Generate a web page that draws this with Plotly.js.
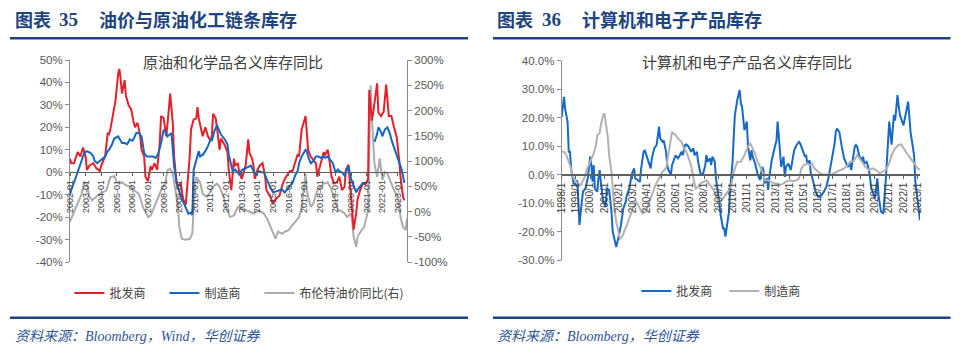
<!DOCTYPE html>
<html><head><meta charset="utf-8">
<script src="https://cdn.plot.ly/plotly-3.0.1.min.js"></script>
<style>html,body{margin:0;padding:0;background:#fff}#chart{width:960px;height:352px}</style>
</head><body><div id="chart"></div>
<script>
// ===== Left panel: 原油和化学品名义库存同比 =====
const wsDates = ['2002-01','2002-02','2002-04','2002-07','2002-09','2002-11','2003-01','2003-02','2003-04','2003-07','2003-09','2003-12',
'2004-01','2004-04','2004-06','2004-07','2004-08','2004-10','2004-12','2005-02','2005-03','2005-04','2005-05','2005-07','2005-08','2005-10','2005-12',
'2006-02','2006-03','2006-05','2006-07','2006-08','2006-10','2006-11','2007-01','2007-03','2007-04','2007-06','2007-08','2007-10','2007-11',
'2008-01','2008-02','2008-03','2008-05','2008-06','2008-08','2008-09','2008-11','2008-12','2009-02','2009-04','2009-06','2009-07','2009-09','2009-10','2009-12',
'2010-02','2010-03','2010-04','2010-06','2010-07','2010-09','2010-11','2011-01','2011-02','2011-03','2011-05','2011-06','2011-08','2011-09','2011-12',
'2012-02','2012-03','2012-05','2012-07','2012-08','2012-10','2012-11','2013-01','2013-04','2013-06','2013-07','2013-09','2013-10','2013-11',
'2014-01','2014-03','2014-05','2014-07','2014-08','2014-11','2015-01','2015-03','2015-06','2015-08','2015-10','2015-12',
'2016-02','2016-04','2016-06','2016-08','2016-09','2016-11','2017-02','2017-03','2017-04','2017-06','2017-08','2017-10','2017-11',
'2018-01','2018-03','2018-04','2018-05','2018-07','2018-08','2018-10','2018-12','2019-02','2019-04','2019-06','2019-08','2019-09','2019-11',
'2020-01','2020-02','2020-03','2020-05','2020-06','2020-08','2020-10','2020-12','2021-02','2021-03','2021-05','2021-06','2021-09','2021-10','2021-12',
'2022-02','2022-04','2022-06','2022-08','2022-10','2022-12','2023-02','2023-03','2023-05','2023-06'];
const wsVals = [6,4,4,9,7,11,7,1,3,4,2,0.5,
3,7,17.5,17,19,26.5,32,44,46,41,35,41,34,30,28,
22,20,22,16,10,7,-2,-4,2.7,1,4,1,13,25,
24,19,16,28,35,22,7,-5,-6,-5,-12,-14.5,-8,7,19,23.5,
24,29,24,17.5,16,20,16,14,16,26,24,20,10,15,12,
9,1,-8,6,3,4,0,-3,3,14.6,8.6,6,3,-3,
1,3,4,-2,-8,-11,-14,-12,-10.5,-6,-3,-1,
0.5,0.5,4,8,7,19,25,17.5,10,7,5.7,4,-2,
2.7,7,9,7.5,10,7,-2,-5,-4.5,-2,-8,-6.5,1,3.4,
-11,-20,-25.6,-18,-12,-8,-5,-5.5,-3,36.6,23,26.6,39.6,26.6,25,
27,39,25,25,20,15.8,5.4,-2,-11,-12.5];

const mfDates = ['2002-01','2002-02','2002-04','2002-07','2002-09','2002-12','2003-02','2003-05','2003-07','2003-08','2003-10',
'2004-01','2004-04','2004-06','2004-07','2004-09','2004-11','2005-02','2005-03','2005-05','2005-07','2005-09','2005-11',
'2006-01','2006-02','2006-04','2006-06','2006-08','2006-10','2006-12','2007-03','2007-05','2007-07','2007-09','2007-11',
'2008-01','2008-03','2008-04','2008-06','2008-07','2008-08','2008-09','2008-11','2009-01','2009-03','2009-05','2009-07','2009-08','2009-10','2009-11','2009-12',
'2010-02','2010-04','2010-05','2010-07','2010-09','2010-11','2011-01','2011-02','2011-04','2011-06','2011-07','2011-09','2011-12',
'2012-02','2012-03','2012-05','2012-06','2012-08','2012-10','2012-11','2013-01','2013-04','2013-06','2013-08','2013-10','2013-12',
'2014-02','2014-04','2014-06','2014-07','2014-09','2014-11','2015-01','2015-03','2015-06','2015-08','2015-10','2015-12',
'2016-02','2016-04','2016-06','2016-08','2016-09','2016-11','2017-02','2017-03','2017-04','2017-06','2017-08','2017-10','2017-12',
'2018-02','2018-04','2018-05','2018-07','2018-09','2018-11','2019-01','2019-03','2019-04','2019-06','2019-08','2019-09','2019-11',
'2020-01','2020-03','2020-05','2020-06','2020-08','2020-10','2021-01','2021-04',
'2021-07','2021-09','2021-10','2021-12','2022-01','2022-03','2022-05','2022-07','2022-08','2022-10','2022-12','2023-02','2023-04','2023-06'];
const mfVals = [-10,-7.7,-4.8,0,4,8.6,9.4,8.5,7,5,4,
5.7,7,9.4,10,12,15,16,15,13,13,12.5,14.6,
14,15,17.5,17.5,16,8.6,7,7,7,6.4,8.6,13,
19,17.5,16,17,17.5,10,2.7,-5,-9,-12,-14.4,-17,-18.5,-18,-19,1,
5.7,9.4,7,7.7,9.4,11.6,14.6,14,18.3,21,19.5,16.8,14.6,
12.4,7.9,2.7,0.5,1.2,0,-1,1,2,2.7,3,0.5,-1,
0.5,0,0,-1.5,-4,-7,-9,-8.7,-8.3,-7.7,-9,-7.5,
-6,-4.8,-1.5,0.7,4,7,10,9.3,7,4,5,7,7,
6.4,7,6.4,7,5.7,4,0,1.2,0.5,0,-1.5,0,2.7,
-3,-6,-9,-7.7,-6,-4.8,-4.8,null,
13.5,17,20,18,16,19,20,17,14.5,11,8.5,5,1,-4.8];

const brentDates = ['2002-01','2002-10','2002-12','2003-02','2003-04','2003-06','2003-12','2004-05','2004-08','2004-11',
'2005-01','2005-03','2005-05','2005-08','2005-12','2006-02','2006-06','2006-09','2007-01','2007-03','2007-07','2007-11',
'2008-02','2008-04','2008-06','2008-08','2008-10','2008-12','2009-01','2009-03','2009-06','2009-09','2009-11',
'2010-01','2010-02','2010-05','2010-07','2010-10','2011-01','2011-03','2011-06','2011-08','2011-11',
'2012-01','2012-04','2012-07','2012-10','2012-12','2013-05','2013-10','2014-02','2014-06','2014-09',
'2015-01','2015-03','2015-05','2015-08','2015-10','2016-01','2016-04','2016-06','2016-09','2016-11',
'2017-01','2017-02','2017-03','2017-06','2017-08','2017-11','2018-02','2018-04','2018-07','2018-09','2018-12',
'2019-03','2019-05','2019-08','2019-10','2020-01','2020-02','2020-03','2020-05','2020-06','2020-09','2020-11',
'2021-02','2021-03','2021-04','2021-05','2021-07','2021-09','2021-11','2022-01','2022-03','2022-05','2022-08','2022-10',
'2023-01','2023-03','2023-05','2023-07','2023-08'];
const brentVals = [-20,35,58,55,29,22,35,42,68,70,
58,55,58,52,49,42,35,9,-11,-8,16,42,
55,82,85,75,42,9,-31,-54,-56,-54,-44,
55,68,58,35,29,39,49,55,49,29,
9,-11,-8,9,6,2,-4,2,-4,-17,
-44,-54,-40,-44,-40,-37,-27,-21,-11,9,
55,75,42,9,16,42,49,55,58,49,29,
2,2,-4,-11,-4,-24,-50,-70,-50,-37,-31,
2,121,250,187,95,68,105,62,78,75,55,42,
29,-11,-31,-37,-14];

const leftTickText = ['2002-01','2003-01','2004-01','2005-01','2006-01','2007-01','2008-01','2009-01','2010-01','2011-01','2012-01',
'2013-01','2014-01','2015-01','2016-01','2017-01','2018-01','2019-01','2020-01','2021-01','2022-01','2023-01'];
const leftYTicks = [-40,-30,-20,-10,0,10,20,30,40,50];
const rightYTicks = [-100,-50,0,50,100,150,200,250,300];

// ===== Right panel: 计算机和电子产品名义库存同比 =====
const ceWsDates = ['1998-01','1998-03','1998-04','1998-06','1998-07','1998-08','1998-09','1998-11','1999-01','1999-02','1999-03','1999-04','1999-06','1999-07','1999-09','1999-11',
'2000-01','2000-02','2000-03','2000-04','2000-05','2000-07','2000-08','2000-09','2000-10','2000-12','2001-02','2001-03','2001-05','2001-07','2001-08','2001-10','2001-11',
'2002-01','2002-03','2002-05','2002-07','2002-08','2002-10','2002-12','2003-02','2003-03','2003-05','2003-07','2003-08','2003-10','2003-11',
'2004-02','2004-04','2004-05','2004-07','2004-09','2004-11','2004-12','2005-02','2005-03','2005-05','2005-06','2005-07','2005-09','2005-10','2005-11',
'2006-01','2006-03','2006-04','2006-06','2006-07','2006-09','2006-10','2006-12','2007-02','2007-04','2007-05','2007-07','2007-08','2007-10','2007-12',
'2008-02','2008-03','2008-04','2008-06','2008-07','2008-08','2008-10','2008-11','2009-01','2009-03','2009-05','2009-06','2009-07','2009-08','2009-10','2009-11',
'2010-01','2010-02','2010-03','2010-05','2010-07','2010-08','2010-09','2010-11','2011-01','2011-02','2011-04','2011-05','2011-06','2011-08','2011-10','2011-12',
'2012-02','2012-03','2012-04','2012-06','2012-07','2012-08','2012-10','2012-12','2013-02','2013-03','2013-04','2013-05','2013-06','2013-08','2013-09','2013-10','2013-12',
'2014-02','2014-03','2014-05','2014-07','2014-09','2014-10','2014-12','2015-02','2015-03','2015-04','2015-06','2015-07','2015-08','2015-10','2015-11',
'2016-01','2016-03','2016-06','2016-08','2016-10','2016-12','2017-02','2017-03','2017-04','2017-05','2017-07','2017-08','2017-09','2017-11',
'2018-01','2018-02','2018-04','2018-05','2018-06','2018-08','2018-09','2018-10','2018-12','2019-02','2019-03','2019-04','2019-06','2019-08','2019-10',
'2020-01','2020-03','2020-04','2020-06','2020-08','2020-10','2020-12','2021-01','2021-03','2021-05','2021-06','2021-08','2021-09','2021-10',
'2022-01','2022-03','2022-05','2022-07','2022-10','2022-11','2023-01','2023-03'];
const ceWsVals = [20.3,27.3,23,18.5,8,8,2,-3,-3.7,-2,-8.4,-17.7,-9.5,-6,-4.9,-1.3,
6.3,3.3,-2.5,3.3,-4.9,-6,-1.3,1.6,-2.5,-9.5,-11.3,-4.9,-5.4,-13,-20,-24,-25.4,
-21.8,-17.7,-11.9,-9.5,-7.2,-4.9,0,2.2,-1.3,-2,-2.5,2.2,8,8.6,
4.5,2.2,5.7,9.2,10.4,16.8,12.7,11.5,12,8,3.3,1.6,0,3.3,4.5,
6.8,5.7,6.3,8,6.8,10.4,10.6,9.8,8,9.2,6.8,8,4.5,0.4,0,
3.3,6.8,4.5,5.7,3.3,6.3,4.5,-1.3,-7.2,-14.2,-18.9,-18.9,-21.8,-18.9,-13,-4.9,
4.5,13.9,20.9,26.2,29.7,25,23.8,15.6,18.6,9.8,5,8.6,6.3,3.9,0.4,-1.9,
2.7,1.6,-3.1,-1.3,-5.4,-0.8,5,8.6,12.1,18.6,12.1,9.8,2.7,6.3,-0.8,2.7,3.9,
1.6,3.9,8.6,10.4,11.5,10.9,8.6,6.3,6.9,3.9,5,0.4,-0.8,-4.3,-6,
-7.8,-7.8,-6,-4.3,-0.8,3.9,8.6,10.9,15,16.2,15,12.1,9.8,5.7,
3.9,2.7,3.9,1.6,4.5,9.8,10.4,9.8,6.3,5,6.3,3.9,4.5,1.6,-4.9,
-8.4,-1.3,-7.2,-13,-13.7,-2.5,11.6,18.6,10.5,21,19,27.9,24,21,
17.3,22,25.6,15,6.8,-2.5,-9.5,-16];

const ceMfDates = ['1998-01','1998-03','1998-05','1998-08','1998-10','1998-12','1999-02','1999-05','1999-08','1999-10',
'2000-01','2000-04','2000-06','2000-07','2000-09','2000-10','2000-12','2001-01','2001-02','2001-04','2001-05','2001-07','2001-08','2001-09','2001-11',
'2002-01','2002-02','2002-04','2002-06','2002-08','2002-10','2003-01','2003-04','2003-07','2003-09','2003-12',
'2004-03','2004-06','2004-08','2004-11','2005-02','2005-05','2005-07','2005-09','2005-10','2005-11','2006-01','2006-03','2006-06','2006-08','2006-10','2006-12',
'2007-02','2007-04','2007-06','2007-08','2007-10','2008-01','2008-03','2008-04','2008-07','2008-09','2008-11','2009-01','2009-03','2009-05','2009-07','2009-09','2009-12',
'2010-02','2010-04','2010-05','2010-08','2010-11','2011-02','2011-04','2011-06','2011-08','2011-10','2012-01','2012-03','2012-04','2012-07','2012-09','2012-12',
'2013-02','2013-05','2013-08','2013-10','2014-01','2014-04','2014-07','2014-09','2014-11','2015-01','2015-04','2015-06','2015-08','2015-10',
'2016-01','2016-03','2016-06','2016-09','2016-12','2017-02','2017-05','2017-08','2017-11','2018-02','2018-04','2018-07','2018-10','2018-12',
'2019-03','2019-05','2019-08','2019-11','2020-02','2020-05','2020-07','2020-10','2021-01','2021-03','2021-06','2021-09','2021-11',
'2022-01','2022-04','2022-07','2022-10','2023-01','2023-03'];
const ceMfVals = [8,8,6.8,3.3,0,-2,-3.1,-3.7,-1.3,1.6,
4.5,7.4,10.4,13.9,14.5,17.4,20.9,21.5,18.6,12.7,6.8,1,-4.9,-10.7,-16.6,
-21.4,-22.5,-21.8,-20,-17.7,-15.4,-11.9,-9.5,-11.9,-13.6,-13,
-9.5,-6,-3.7,-1.3,1,2.2,6.8,12.7,15,14.5,13.9,12.7,11.5,9.2,8,5.7,
3.3,-1.3,-4.9,-4.3,-3.1,-2.5,-2,-2.5,-4.3,-5.4,-7.2,-9.5,-9.5,-8.4,-7.2,-6,-3.7,
1,3.3,4.5,4.5,6.8,9.8,10.9,9.2,7.4,4.5,2.2,0,-2,-2,-2.5,-3.1,
-3.1,-3.7,-3.1,-2.5,-2,-2.3,-2,-1.3,2.2,3.3,3.9,3.3,3.9,2.2,
1,0.4,0,0,0,0.4,1,1.6,2.2,3.3,4.5,4.7,6.8,5.7,
3.9,2.7,1.6,2.2,1.6,0.4,1,1.6,3.9,6.8,9.2,10.4,10.6,
9.2,7.4,5.7,3.9,2.2,1.6];

const ceTickText = ['1998/1','1999/1','2000/1','2001/1','2002/1','2003/1','2004/1','2005/1','2006/1','2007/1','2008/1','2009/1','2010/1',
'2011/1','2012/1','2013/1','2014/1','2015/1','2016/1','2017/1','2018/1','2019/1','2020/1','2021/1','2022/1','2023/1'];
const ceYTicks = [-30,-20,-10,0,10,20,30,40];

// ===== styles =====
const RED = '#E5202A', BLUE = '#1766C2', GRAY = '#ACACAC', RBLUE = '#1669C4', RGRAY = '#B2B2B2';
const AX = '#8C8C8C', ZERO = '#5F5F5F', LBL = '#595959';
const NAVY = '#1E4580', SRC = '#2F5597';
const CJK = 'Noto Sans CJK SC';
const W = 960, H = 352;
const px = x => x / W, py = y => 1 - y / H;

const traces = [
  {x: brentDates, y: brentVals, type: 'scatter', mode: 'lines', name: '布伦特油价同比(右)', xaxis: 'x', yaxis: 'y',
   line: {color: GRAY, width: 2}, legend: 'legend3'},
  {x: wsDates, y: wsVals, type: 'scatter', mode: 'lines', name: '批发商', xaxis: 'x', yaxis: 'y2',
   line: {color: RED, width: 2}, legend: 'legend', legendrank: 1},
  {x: mfDates, y: mfVals, type: 'scatter', mode: 'lines', name: '制造商', xaxis: 'x', yaxis: 'y2',
   line: {color: BLUE, width: 2}, legend: 'legend', legendrank: 2},
  {x: ceWsDates, y: ceWsVals, type: 'scatter', mode: 'lines', name: '批发商', xaxis: 'x2', yaxis: 'y3',
   line: {color: RBLUE, width: 2}, legend: 'legend2'},
  {x: ceMfDates, y: ceMfVals, type: 'scatter', mode: 'lines', name: '制造商', xaxis: 'x2', yaxis: 'y3',
   line: {color: RGRAY, width: 2}, legend: 'legend2'}
];

const yTickFont = {family: 'Liberation Sans, Arial, sans-serif', size: 11.5, color: LBL};
const legFont = {family: CJK, size: 12, color: '#404040'};

const layout = {
  width: W, height: H, autosize: false,
  margin: {l: 0, r: 0, t: 0, b: 0, pad: 0},
  paper_bgcolor: '#fff', plot_bgcolor: 'rgba(0,0,0,0)',
  showlegend: true,
  xaxis: {
    type: 'date', domain: [px(70), px(407)], range: ['2002-01-01', '2023-08-01'],
    anchor: 'free', position: py(172),
    showline: true, linecolor: ZERO, linewidth: 1.3, showgrid: false, zeroline: false,
    tickmode: 'array', tickvals: leftTickText.map(t => t + '-01'), ticktext: leftTickText,
    ticks: 'outside', ticklen: 3, tickcolor: ZERO, tickangle: -90,
    tickfont: {family: 'Liberation Sans, Arial, sans-serif', size: 9, color: '#404040'}
  },
  yaxis: {
    domain: [py(262), py(60)], range: [-100, 300], side: 'right', anchor: 'x',
    showline: true, linecolor: AX, showgrid: false, zeroline: false,
    tickmode: 'array', tickvals: rightYTicks, ticktext: rightYTicks.map(v => v + '%'),
    ticks: 'outside', ticklen: 4, tickcolor: AX, tickfont: yTickFont
  },
  yaxis2: {
    range: [-40, 50], overlaying: 'y', side: 'left', anchor: 'x',
    showline: true, linecolor: AX, showgrid: false, zeroline: false,
    tickmode: 'array', tickvals: leftYTicks, ticktext: leftYTicks.map(v => v + '%'),
    ticks: 'outside', ticklen: 4, tickcolor: AX, tickfont: yTickFont
  },
  xaxis2: {
    type: 'date', domain: [px(561.7), px(920)], range: ['1998-01-01', '2023-03-01'],
    anchor: 'free', position: py(174.4),
    showline: true, linecolor: ZERO, linewidth: 1.3, showgrid: false, zeroline: false,
    tickmode: 'array', tickvals: ceTickText.map(t => t.split('/')[0] + '-01-01'), ticktext: ceTickText,
    ticks: 'outside', ticklen: 3, tickcolor: ZERO, tickangle: -90,
    tickfont: {family: 'Liberation Sans, Arial, sans-serif', size: 10, color: '#404040'}
  },
  yaxis3: {
    domain: [py(260), py(60.7)], range: [-30, 40], anchor: 'x2',
    showline: true, linecolor: AX, showgrid: false, zeroline: false,
    tickmode: 'array', tickvals: ceYTicks, ticktext: ceYTicks.map(v => v.toFixed(1) + '%'),
    ticks: 'outside', ticklen: 4, tickcolor: AX, tickfont: yTickFont
  },
  legend: {
    orientation: 'h', x: px(69.4), y: py(293), xanchor: 'left', yanchor: 'middle',
    font: legFont, bgcolor: 'rgba(0,0,0,0)',
    entrywidth: 50, entrywidthmode: 'pixels', traceorder: 'normal'
  },
  legend3: {
    orientation: 'h', x: px(259.4), y: py(293), xanchor: 'left', yanchor: 'middle',
    font: legFont, bgcolor: 'rgba(0,0,0,0)', traceorder: 'normal'
  },
  legend2: {
    orientation: 'h', x: px(636.3), y: py(291), xanchor: 'left', yanchor: 'middle',
    font: legFont, bgcolor: 'rgba(0,0,0,0)',
    entrywidth: 43, entrywidthmode: 'pixels', traceorder: 'normal'
  },
  shapes: [
    {type: 'line', xref: 'paper', yref: 'paper', x0: px(10), x1: px(468), y0: py(38.3), y1: py(38.3), line: {color: NAVY, width: 2.6}},
    {type: 'line', xref: 'paper', yref: 'paper', x0: px(493), x1: px(950.5), y0: py(38.3), y1: py(38.3), line: {color: NAVY, width: 2.6}},
    {type: 'line', xref: 'paper', yref: 'paper', x0: px(10), x1: px(468), y0: py(317.7), y1: py(317.7), line: {color: NAVY, width: 2.6}},
    {type: 'line', xref: 'paper', yref: 'paper', x0: px(493), x1: px(950.5), y0: py(317.7), y1: py(317.7), line: {color: NAVY, width: 2.6}}
  ],
  annotations: [
    {text: '<b>图表</b>', x: px(12.7), y: py(19.3), xref: 'paper', yref: 'paper', xanchor: 'left', yanchor: 'middle', showarrow: false,
     font: {family: CJK, size: 18, color: NAVY}},
    {text: '<b>35</b>', x: px(56.7), y: py(19.3), xref: 'paper', yref: 'paper', xanchor: 'left', yanchor: 'middle', showarrow: false,
     font: {family: 'Liberation Serif, serif', size: 19, color: NAVY}},
    {text: '<b>油价与原油化工链条库存</b>', x: px(96.7), y: py(19.3), xref: 'paper', yref: 'paper', xanchor: 'left', yanchor: 'middle', showarrow: false,
     font: {family: CJK, size: 18, color: NAVY}},
    {text: '<b>图表</b>', x: px(495), y: py(19.3), xref: 'paper', yref: 'paper', xanchor: 'left', yanchor: 'middle', showarrow: false,
     font: {family: CJK, size: 18, color: NAVY}},
    {text: '<b>36</b>', x: px(540), y: py(19.3), xref: 'paper', yref: 'paper', xanchor: 'left', yanchor: 'middle', showarrow: false,
     font: {family: 'Liberation Serif, serif', size: 19, color: NAVY}},
    {text: '<b>计算机和电子产品库存</b>', x: px(580), y: py(19.3), xref: 'paper', yref: 'paper', xanchor: 'left', yanchor: 'middle', showarrow: false,
     font: {family: CJK, size: 18, color: NAVY}},
    {text: '原油和化学品名义库存同比', x: px(233), y: py(61.7), xref: 'paper', yref: 'paper', xanchor: 'center', yanchor: 'middle', showarrow: false,
     font: {family: CJK, size: 15, color: '#404040'}},
    {text: '计算机和电子产品名义库存同比', x: px(747), y: py(61.7), xref: 'paper', yref: 'paper', xanchor: 'center', yanchor: 'middle', showarrow: false,
     font: {family: CJK, size: 15, color: '#404040'}},
    {text: '<i>资料来源：Bloomberg，Wind，华创证券</i>', x: px(13), y: py(336.7), xref: 'paper', yref: 'paper', xanchor: 'left', yanchor: 'middle', showarrow: false,
     font: {family: 'Liberation Serif, Noto Sans CJK SC, serif', size: 14, color: SRC}},
    {text: '<i>资料来源：Bloomberg，华创证券</i>', x: px(495), y: py(336.7), xref: 'paper', yref: 'paper', xanchor: 'left', yanchor: 'middle', showarrow: false,
     font: {family: 'Liberation Serif, Noto Sans CJK SC, serif', size: 14, color: SRC}}
  ]
};

Plotly.newPlot('chart', traces, layout, {displayModeBar: false, staticPlot: true});
</script>
</body></html>
